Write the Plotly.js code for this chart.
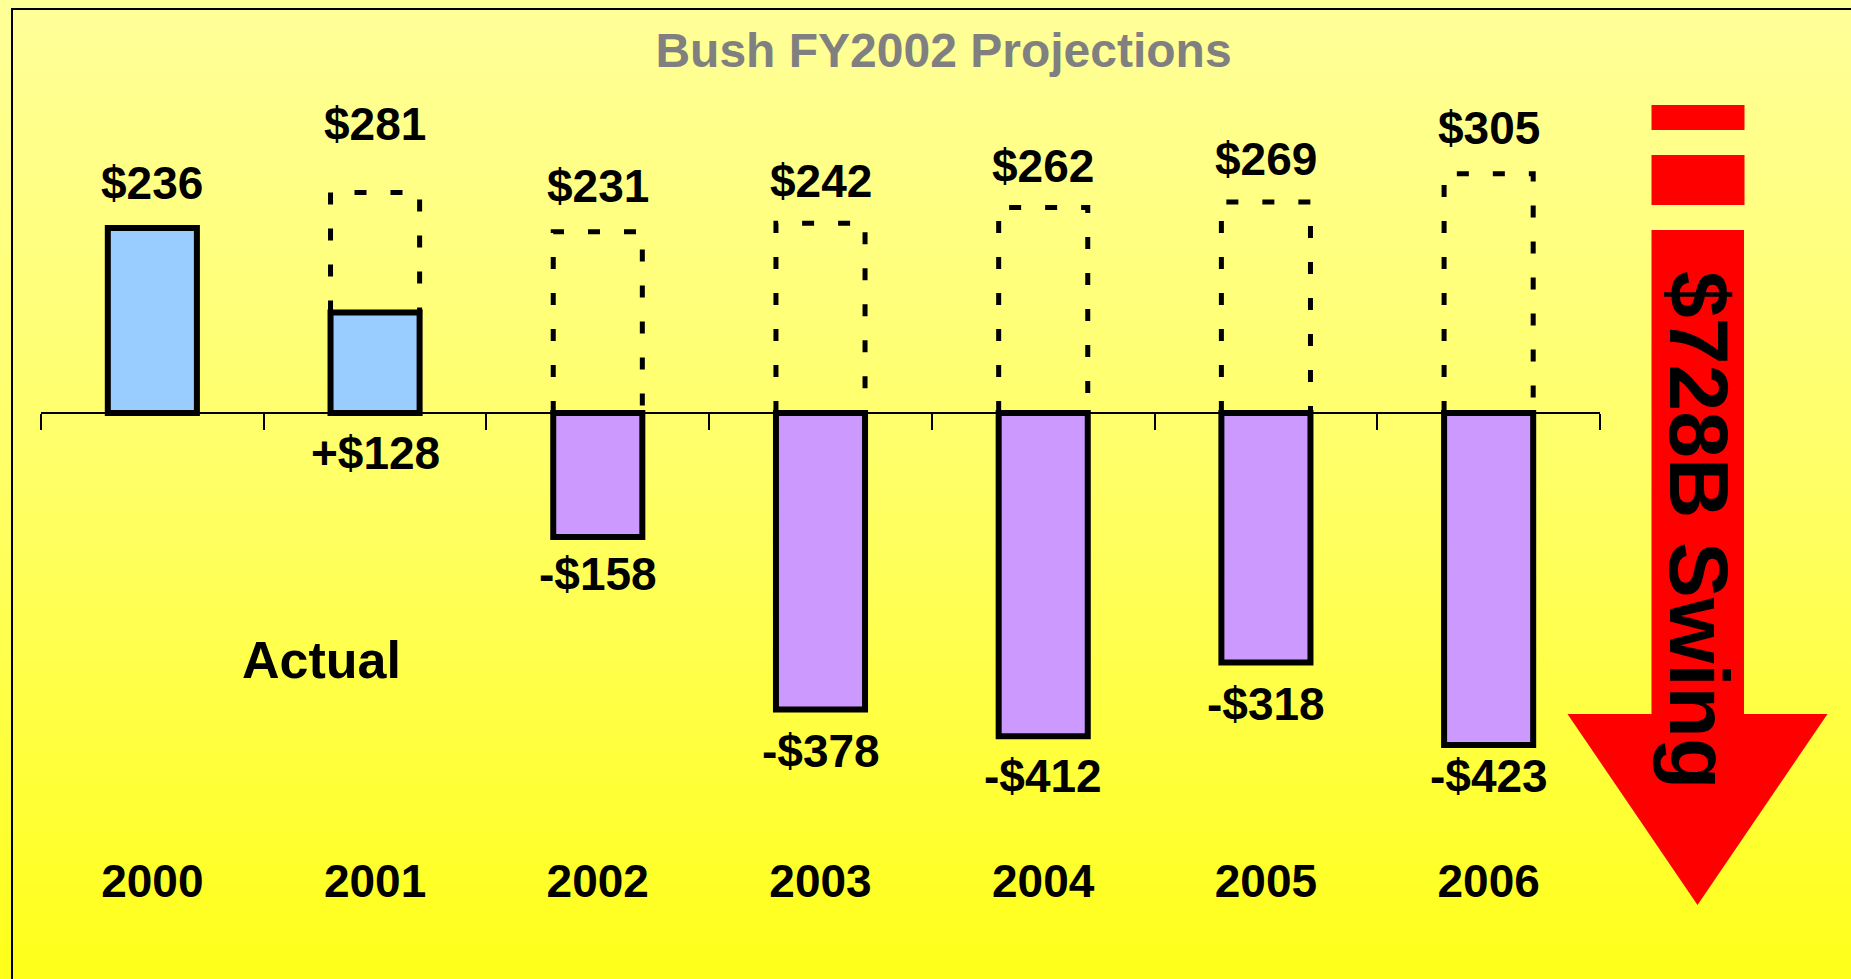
<!DOCTYPE html>
<html>
<head>
<meta charset="utf-8">
<script src="https://cdn.plot.ly/plotly-3.0.1.min.js"></script>
<style>
  html, body { margin: 0; padding: 0; }
  body { width: 1851px; height: 979px; overflow: hidden;
         background: linear-gradient(to bottom, #FFFF99 0%, #FFFF66 50%, #FFFF1A 100%); }
  #chart { position: absolute; left: 0; top: 0; width: 1851px; height: 979px; }
  #frame { position: absolute; left: 11px; top: 8px; width: 1900px; height: 1000px;
           border-left: 2px solid #000; border-top: 2px solid #000; pointer-events: none; }
</style>
</head>
<body>
<div id="chart"></div>
<div id="frame"></div>
<script>
// ---- data ----
const years = [2000, 2001, 2002, 2003, 2004, 2005, 2006];
const yearLabels = ["2000", "2001", "2002", "2003", "2004", "2005", "2006"];
const actual = [236, 128, -158, -378, -412, -318, -423];
const projected = [null, 281, 231, 242, 262, 269, 305];
const actualLabels = ["$236", "+$128", "-$158", "-$378", "-$412", "-$318", "-$423"];
const projectedLabels = [null, "$281", "$231", "$242", "$262", "$269", "$305"];
const titleText = "Bush FY2002 Projections";
const actualText = "Actual";
const swingText = "$728B Swing";

// ---- styles ----
const FONT = '"Liberation Sans", Arial, Helvetica, sans-serif';
const blue = '#99CCFF', purple = '#CC99FF';
const barColors = actual.map((v, i) => i < 2 ? blue : purple);
const barWidth = 0.4;
const actualShift = [45, -40, -37, -41, -40, -41, -31];   // label offsets (px)
const projShift = [null, 69, 46, 42, 42, 43, 46];

// plot area geometry (px)
const L = 41, PW = 1559, T = 20, PH = 830;
const W = 1851, H = 979;
const yRange = [-557, 501];
const px = x => (x - L) / PW;
const py = y => (T + PH - y) / PH;
const zeroPos = (0 - yRange[0]) / (yRange[1] - yRange[0]);

// dashed projection outlines built from the data
const dx = [], dy = [];
years.forEach((yr, i) => {
  if (projected[i] == null) return;
  const base = Math.max(actual[i], 0);
  dx.push(yr - barWidth / 2, yr - barWidth / 2, yr + barWidth / 2, yr + barWidth / 2, null);
  dy.push(base, projected[i], projected[i], base, null);
});

const traces = [
  {
    type: 'bar', x: years, y: actual, width: barWidth,
    marker: { color: barColors, line: { color: '#000', width: 6 } },
    hoverinfo: 'skip', showlegend: false
  },
  {
    type: 'scatter', mode: 'lines', x: dx, y: dy, xaxis: 'x2', yaxis: 'y',
    line: { color: '#000', width: 5, dash: '12px,24px' },
    hoverinfo: 'skip', showlegend: false, connectgaps: false
  }
];

const annotations = [];
const labelFont = { family: FONT, size: 46, color: '#000', weight: 'bold' };
years.forEach((yr, i) => {
  const s = actualShift[i];
  annotations.push({
    x: yr, y: s > 0 ? actual[i] : Math.min(actual[i], 0), xref: 'x', yref: 'y',
    text: actualLabels[i], showarrow: false, yanchor: 'middle', yshift: s, font: labelFont
  });
  if (projected[i] != null) {
    annotations.push({
      x: yr, y: projected[i], xref: 'x', yref: 'y',
      text: projectedLabels[i], showarrow: false, yanchor: 'middle', yshift: projShift[i], font: labelFont
    });
  }
});
annotations.push({
  x: px(321), y: py(660), xref: 'paper', yref: 'paper', text: actualText, showarrow: false,
  xanchor: 'center', yanchor: 'middle', font: { family: FONT, size: 52, color: '#000', weight: 'bold' }
});
annotations.push({
  x: px(1699), y: py(530), xref: 'paper', yref: 'paper', text: swingText, showarrow: false,
  textangle: 90, xanchor: 'center', yanchor: 'middle',
  font: { family: FONT, size: 84, color: '#000', weight: 'bold' }
});

// red arrow (decoration)
function rectPath(x0, y0, x1, y1) {
  return `M${px(x0)},${py(y0)} L${px(x1)},${py(y0)} L${px(x1)},${py(y1)} L${px(x0)},${py(y1)} Z`;
}
const arrowPath = `M${px(1651.5)},${py(230)} L${px(1744)},${py(230)} L${px(1744)},${py(714)} ` +
  `L${px(1827.5)},${py(714)} L${px(1697.5)},${py(905)} L${px(1567.5)},${py(714)} L${px(1651.5)},${py(714)} Z`;
const shapes = [
  { type: 'path', xref: 'paper', yref: 'paper', path: rectPath(1651.5, 105, 1744.5, 130), fillcolor: '#FF0000', line: { width: 0 }, layer: 'below' },
  { type: 'path', xref: 'paper', yref: 'paper', path: rectPath(1651.5, 155, 1744.5, 205), fillcolor: '#FF0000', line: { width: 0 }, layer: 'below' },
  { type: 'path', xref: 'paper', yref: 'paper', path: arrowPath, fillcolor: '#FF0000', line: { width: 0 }, layer: 'below' }
];

const boundaries = years.map(y => y - 0.5).concat([years[years.length - 1] + 0.5]);
const xr = [years[0] - 0.5, years[years.length - 1] + 0.5];

const layout = {
  width: W, height: H,
  margin: { l: L, r: W - L - PW, t: T, b: H - T - PH, pad: 0 },
  paper_bgcolor: 'rgba(0,0,0,0)', plot_bgcolor: 'rgba(0,0,0,0)',
  showlegend: false,
  title: {
    text: titleText, xref: 'container', yref: 'container',
    x: 943.5 / W, xanchor: 'center', y: 1 - 50 / H, yanchor: 'middle',
    font: { family: FONT, size: 48, color: '#808080', weight: 'bold' }
  },
  xaxis: {
    type: 'linear', range: xr, anchor: 'free', position: zeroPos,
    showline: true, linecolor: '#000', linewidth: 2,
    ticks: 'outside', ticklen: 16, tickwidth: 2, tickcolor: '#000',
    tickmode: 'array', tickvals: boundaries, showticklabels: false,
    showgrid: false, zeroline: false, fixedrange: true
  },
  xaxis2: {
    type: 'linear', range: xr, overlaying: 'x', anchor: 'y', side: 'bottom',
    tickmode: 'array', tickvals: years, ticktext: yearLabels, ticks: '',
    showline: false, showgrid: false, zeroline: false, fixedrange: true,
    tickfont: { family: FONT, size: 46, color: '#000', weight: 'bold' }
  },
  yaxis: {
    range: yRange, showline: false, showgrid: false, zeroline: false,
    showticklabels: false, ticks: '', fixedrange: true
  },
  bargap: 0.6,
  annotations: annotations,
  shapes: shapes
};

Plotly.newPlot('chart', traces, layout, { displayModeBar: false, staticPlot: true });
</script>
</body>
</html>
